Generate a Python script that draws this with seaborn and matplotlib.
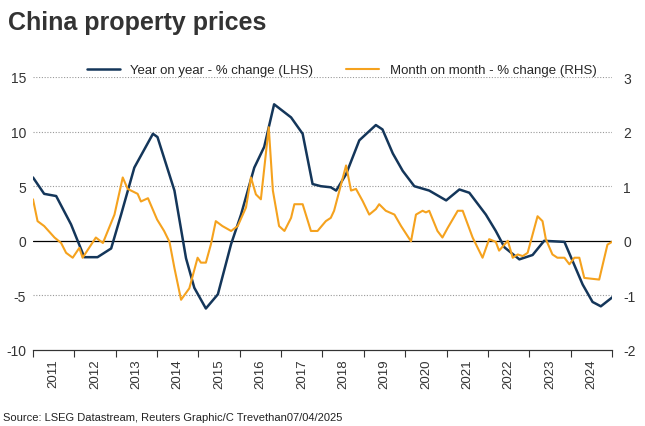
import matplotlib
matplotlib.use("Agg")
import matplotlib.pyplot as plt
import seaborn as sns
import numpy as np

# year on year, % - decimal year, value
yoy_t = [2011.0, 2011.27, 2011.56, 2011.92, 2012.24, 2012.56, 2012.89, 2013.13, 2013.45, 2013.9,
         2014.01, 2014.42, 2014.7, 2014.9, 2015.18, 2015.47, 2015.79, 2016.03, 2016.35, 2016.59,
         2016.83, 2017.24, 2017.52, 2017.76, 2017.96, 2018.2, 2018.33, 2018.57, 2018.89, 2019.29,
         2019.45, 2019.7, 2019.94, 2020.22, 2020.58, 2020.99, 2021.31, 2021.55, 2021.95, 2022.19,
         2022.4, 2022.76, 2023.08, 2023.36, 2023.85, 2024.29, 2024.53, 2024.73, 2025.1]
yoy_v = [5.8, 4.3, 4.1, 1.5, -1.5, -1.5, -0.7, 2.4, 6.7, 9.8,
         9.5, 4.6, -1.6, -4.3, -6.2, -4.9, -0.3, 2.4, 6.7, 8.6,
         12.5, 11.3, 9.8, 5.2, 5.0, 4.9, 4.6, 6.1, 9.2, 10.6,
         10.2, 8.0, 6.4, 5.0, 4.6, 3.7, 4.7, 4.4, 2.4, 0.9,
         -0.6, -1.7, -1.3, 0.0, -0.1, -4.0, -5.6, -6.0, -4.9]

# month on month, % (RHS)
mom_t = [2011.0, 2011.11, 2011.27, 2011.52, 2011.68, 2011.8, 2011.96, 2012.12, 2012.2, 2012.52,
         2012.69, 2012.97, 2013.17, 2013.29, 2013.53, 2013.61, 2013.78, 2014.0, 2014.17, 2014.3,
         2014.42, 2014.58, 2014.78, 2014.98, 2015.06, 2015.18, 2015.3, 2015.42, 2015.58, 2015.79,
         2015.95, 2016.15, 2016.27, 2016.39, 2016.51, 2016.7, 2016.8, 2016.95, 2017.08, 2017.24,
         2017.32, 2017.52, 2017.72, 2017.88, 2018.08, 2018.2, 2018.28, 2018.57, 2018.69, 2018.81,
         2018.97, 2019.13, 2019.29, 2019.37, 2019.53, 2019.74, 2019.9, 2020.14, 2020.26, 2020.42,
         2020.5, 2020.58, 2020.78, 2020.9, 2021.03, 2021.27, 2021.39, 2021.63, 2021.87, 2022.03,
         2022.19, 2022.27, 2022.48, 2022.6, 2022.72, 2022.84, 2022.96, 2023.2, 2023.32, 2023.4,
         2023.56, 2023.68, 2023.85, 2023.97, 2024.09, 2024.21, 2024.33, 2024.69, 2024.89, 2025.02,
         2025.1]
mom_v = [0.76, 0.36, 0.27, 0.06, -0.04, -0.22, -0.31, -0.13, -0.31, 0.06,
         -0.04, 0.48, 1.16, 0.95, 0.86, 0.72, 0.78, 0.39, 0.18, -0.02,
         -0.5, -1.08, -0.87, -0.31, -0.4, -0.4, -0.07, 0.36, 0.27, 0.18,
         0.27, 0.61, 1.16, 0.85, 0.76, 2.08, 0.92, 0.27, 0.18, 0.42,
         0.67, 0.67, 0.18, 0.18, 0.36, 0.42, 0.55, 1.38, 0.92, 0.95,
         0.73, 0.48, 0.58, 0.67, 0.55, 0.48, 0.27, -0.01, 0.48, 0.55,
         0.52, 0.55, 0.18, 0.06, 0.24, 0.55, 0.55, 0.06, -0.31, 0.03,
         -0.02, -0.18, 0.0, -0.31, -0.25, -0.28, -0.22, 0.45, 0.36, 0.03,
         -0.25, -0.31, -0.31, -0.43, -0.31, -0.31, -0.68, -0.71, -0.07, -0.01,
         -0.1]

years = list(range(2011, 2025))

sns.set_style("white")
plt.rcParams['font.family'] = ['Liberation Sans', 'DejaVu Sans']
plt.rcParams['axes.unicode_minus'] = False

navy = "#14365a"
orange = "#f5a21e"

fig = plt.figure(figsize=(6.45, 4.27), dpi=100)
ax = fig.add_axes([33/645, 1-351/427, (612-33)/645, (351-78)/427])
ax2 = ax.twinx()

sns.lineplot(x=yoy_t, y=yoy_v, ax=ax, color=navy, lw=1.8, label="Year on year - % change (LHS)", legend=False)
sns.lineplot(x=mom_t, y=mom_v, ax=ax2, color=orange, lw=1.5, label="Month on month - % change (RHS)", legend=False)

ax.set_xlim(2011, 2025)
ax.set_ylim(-10, 15)
ax2.set_ylim(-2, 3)
ax.set_yticks(range(-10, 16, 5))
ax2.set_yticks(range(-2, 4))
for y in range(-5, 16, 5):
    if y != 0:
        ax.axhline(y, color="#999999", lw=0.8, ls=(0, (1, 1.5)), zorder=0)
ax.axhline(0, color="black", lw=0.9, zorder=1)

ax.set_xticks(years + [2025])
ax.set_xticklabels([])
ax.set_xticks([y + 0.5 for y in years], minor=True)
ax.set_xticklabels([str(y) for y in years], minor=True, rotation=90)
ax.tick_params(axis="x", which="major", length=5, direction="out", color="#333333", bottom=True)
ax.tick_params(axis="x", which="minor", length=0, labelsize=9.5, colors="#333333", pad=6)
ax.tick_params(axis="y", length=0, labelsize=10, colors="#333333", pad=5)
ax2.tick_params(axis="y", length=0, labelsize=10, colors="#333333", pad=8)

for a in (ax, ax2):
    for s in ("top", "left", "right"):
        a.spines[s].set_visible(False)
    a.spines["bottom"].set_color("#333333")
    a.set_xlabel("")
    a.set_ylabel("")

h1, l1 = ax.get_legend_handles_labels()
h2, l2 = ax2.get_legend_handles_labels()
fig.legend(h1 + h2, l1 + l2, loc="upper center", bbox_to_anchor=(0.53, 0.875), ncol=2,
           frameon=False, fontsize=9.5, handlelength=2.5, columnspacing=2.5)

fig.text(0.012, 0.93, "China property prices", fontsize=18, fontweight="bold", color="#333333")
fig.text(0.005, 0.015, "Source: LSEG Datastream, Reuters Graphic/C Trevethan07/04/2025",
         fontsize=8, color="#222222")

fig.savefig("out.png", dpi=100)
